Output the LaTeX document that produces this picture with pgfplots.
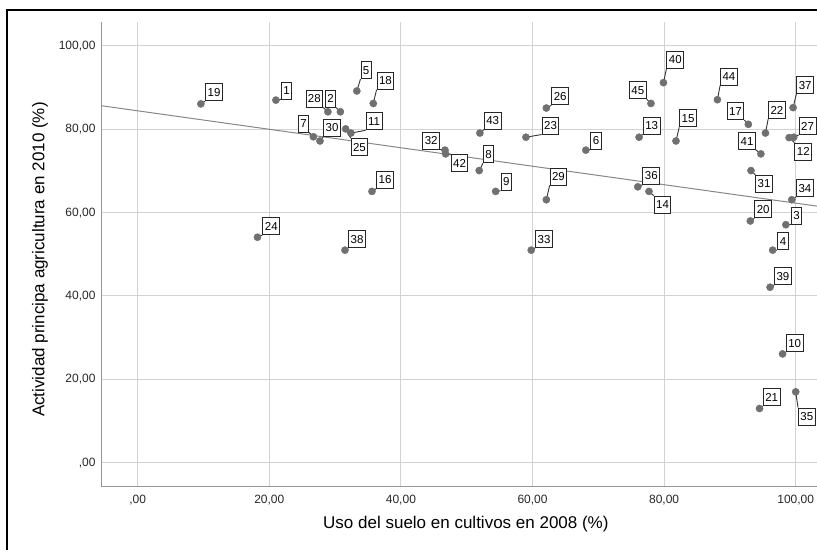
\documentclass[border=0pt]{standalone}
\usepackage{fontspec}
\setmainfont{Liberation Sans}
\usepackage{pgfplots}
\usepackage{pgfplotstable}
\pgfplotsset{compat=1.18}

% label box anchored at its bottom-left corner
\pgfplotstableread{
x y lbl dx dy
21.0 87.0 1 0.76 0.17
98.5 57.1 3 0.76 0
96.5 51.0 4 0.71 0
33.3 89.2 5 0.56 2.88
68.1 75.0 6 0.71 0.17
51.9 70.1 8 0.56 1.75
54.4 65.1 9 0.76 0.17
98.0 26.1 10 0.50 0.41
32.4 79.1 11 2.23 0.65
76.2 78.1 13 0.56 0.65
81.8 77.2 15 0.50 3.29
35.6 65.1 16 0.65 0.65
35.8 86.2 18 0.50 3.29
9.6 86.1 19 0.65 0.65
93.1 58.0 20 0.61 0.65
94.5 13.0 21 0.50 0.55
95.4 79.1 22 0.41 3.36
59.0 78.1 23 2.39 0.65
18.2 54.1 24 0.76 0.55
62.1 85.1 26 0.76 0.65
99.7 78.1 27 0.76 0.55
62.1 63.1 29 0.50 3.43
27.7 77.2 30 0.50 1.03
59.8 51.0 33 0.61 0.55
99.4 63.1 34 0.65 0.65
76.0 66.2 36 0.71 0.48
99.6 85.2 37 0.50 3.29
31.5 51.0 38 0.50 0.55
96.1 42.1 39 0.61 0.55
79.9 91.2 40 0.46 3.36
52.0 79.1 43 0.61 0.79
88.1 87.1 44 0.41 3.43
}\tabSW
% label box anchored at its bottom-right corner
\pgfplotstableread{
x y lbl dx dy
30.8 84.2 2 -0.65 1.03
26.7 78.2 7 -0.65 1.03
92.8 81.2 17 -0.61 1.03
28.9 84.2 28 -0.71 1.03
46.7 75.0 32 -0.76 0.17
94.7 74.1 41 -0.76 0.96
78.0 86.2 45 -0.65 1.03
}\tabSE
% label box anchored at its top-left corner
\pgfplotstableread{
x y lbl dx dy
99.0 78.0 12 0.81 -1.20
77.7 65.1 14 0.71 -1.03
31.6 80.1 25 0.76 -2.23
93.2 70.1 31 0.65 -1.03
100.0 17.0 35 0.35 -3.77
46.8 74.1 42 0.76 -0.07
}\tabNW
% fit line end points
\pgfplotstableread{
x y
-5.58 85.67
103.2 61.57
}\tabFit

\definecolor{dotgray}{RGB}{112,112,112}
\definecolor{gridgray}{RGB}{210,210,210}
\definecolor{axisgray}{RGB}{150,150,150}
\definecolor{fitgray}{RGB}{135,135,135}

\tikzset{lblbox/.style={draw=black!85, line width=0.9bp, fill=white, text=black,
  font=\fontsize{11.5bp}{12bp}\selectfont, inner xsep=2bp, inner ysep=0pt,
  minimum height=17bp, text height=8.2bp, text depth=0pt}}

\pgfplotsset{
  leaders/.style={draw=black!80, line width=0.9bp, mark=none, forget plot},
  dots/.style={only marks, mark=*, mark size=3.6bp, mark options={draw=dotgray, fill=dotgray}},
}

\begin{document}
\begin{tikzpicture}
\useasboundingbox (0,0) rectangle (817bp,550bp);
\draw[line width=1.6bp] (7bp,-10bp) -- (7bp,540bp) -- (840bp,540bp);
\begin{axis}[
  at={(101bp,64bp)}, anchor=south west,
  x=6.58bp, y=4.167bp,
  xmin=-5.58, xmax=103.2, ymin=-5.6, ymax=105.76,
  clip=false,
  axis lines*=left,
  axis line style={draw=axisgray, line width=1bp},
  major tick length=0pt,
  grid=major,
  grid style={draw=gridgray, line width=1bp},
  xtick={0,20,40,60,80,100},
  ytick={0,20,40,60,80,100},
  xticklabels={{,00},{20,00},{40,00},{60,00},{80,00},{100,00}},
  yticklabels={{,00},{20,00},{40,00},{60,00},{80,00},{100,00}},
  ticklabel style={font=\fontsize{12bp}{13bp}\selectfont, text=black!85},
  xticklabel style={anchor=center, yshift=-14bp},
  yticklabel style={anchor=east, xshift=-2bp},
  xlabel={Uso del suelo en cultivos en 2008 (\%)},
  ylabel={Actividad principa agricultura en 2010 (\%)},
  label style={font=\fontsize{17bp}{19bp}\selectfont, text=black},
  xlabel style={at={(axis description cs:0.5098,-0.0819)}, anchor=center},
  ylabel style={at={(axis description cs:-0.0852,0.488)}, anchor=center},
]
% regression line
\addplot[draw=fitgray, line width=1bp, mark=none] table {\tabFit};
% leader lines
\addplot[leaders, quiver={u=\thisrow{dx}, v=\thisrow{dy}}] table {\tabSW};
\addplot[leaders, quiver={u=\thisrow{dx}, v=\thisrow{dy}}] table {\tabSE};
\addplot[leaders, quiver={u=\thisrow{dx}, v=\thisrow{dy}}] table {\tabNW};
% points
\addplot[dots] table {\tabSW};
\addplot[dots] table {\tabSE};
\addplot[dots] table {\tabNW};
% label boxes
\addplot[draw=none, mark=none, nodes near coords, point meta=explicit symbolic,
  every node near coord/.append style={lblbox, anchor=south west}]
  table[x expr=\thisrow{x}+\thisrow{dx}, y expr=\thisrow{y}+\thisrow{dy}, meta=lbl] {\tabSW};
\addplot[draw=none, mark=none, nodes near coords, point meta=explicit symbolic,
  every node near coord/.append style={lblbox, anchor=south east}]
  table[x expr=\thisrow{x}+\thisrow{dx}, y expr=\thisrow{y}+\thisrow{dy}, meta=lbl] {\tabSE};
\addplot[draw=none, mark=none, nodes near coords, point meta=explicit symbolic,
  every node near coord/.append style={lblbox, anchor=north west}]
  table[x expr=\thisrow{x}+\thisrow{dx}, y expr=\thisrow{y}+\thisrow{dy}, meta=lbl] {\tabNW};
\end{axis}
\end{tikzpicture}
\end{document}
